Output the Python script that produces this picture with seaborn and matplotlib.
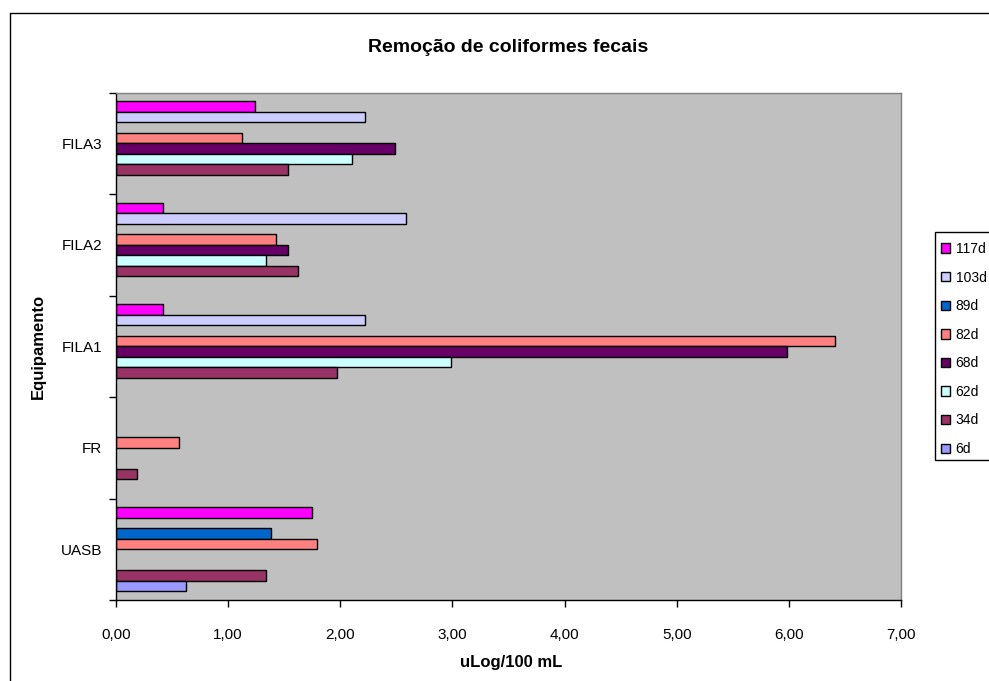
import numpy as np
import pandas as pd
import matplotlib
matplotlib.use("Agg")
import matplotlib.pyplot as plt
import seaborn as sns
from matplotlib.lines import Line2D
from matplotlib.patches import Patch, Rectangle
from matplotlib.ticker import FixedLocator

nan = np.nan

# categories (bottom to top as in the chart)
categories = ["UASB", "FR", "FILA1", "FILA2", "FILA3"]
series = ["6d", "34d", "62d", "68d", "82d", "89d", "103d", "117d"]

# values per series, aligned with categories
v_6d = [0.62, nan, nan, nan, nan]
v_34d = [1.34, 0.19, 1.97, 1.62, 1.53]
v_62d = [nan, nan, 2.99, 1.34, 2.10]
v_68d = [nan, nan, 5.98, 1.53, 2.49]
v_82d = [1.79, 0.56, 6.41, 1.43, 1.12]
v_89d = [1.38, nan, nan, nan, nan]
v_103d = [nan, nan, 2.22, 2.59, 2.22]
v_117d = [1.75, nan, 0.42, 0.42, 1.24]

colors = {
    "6d": "#9999FF", "34d": "#993366", "62d": "#CCFFFF", "68d": "#660066",
    "82d": "#FF8080", "89d": "#0066CC", "103d": "#CCCCFF", "117d": "#FF00FF",
}

xticks = [0, 1, 2, 3, 4, 5, 6, 7]
xtick_labels = ["0,00", "1,00", "2,00", "3,00", "4,00", "5,00", "6,00", "7,00"]

values = {"6d": v_6d, "34d": v_34d, "62d": v_62d, "68d": v_68d,
          "82d": v_82d, "89d": v_89d, "103d": v_103d, "117d": v_117d}
rows = []
for s in series:
    for c, v in zip(categories, values[s]):
        if not np.isnan(v):
            rows.append({"Equipamento": c, "serie": s, "value": v})
df = pd.DataFrame(rows)

sns.set_style("white")
plt.rcParams["font.family"] = ["Liberation Sans", "DejaVu Sans"]
plt.rcParams["text.color"] = "black"
plt.rcParams["xtick.color"] = "black"
plt.rcParams["ytick.color"] = "black"
plt.rcParams["axes.labelcolor"] = "black"

W, H = 989, 681
fig = plt.figure(figsize=(W / 100, H / 100), dpi=100)
ax = fig.add_axes([116 / W, 1 - 600 / H, (901 - 116) / W, (600 - 92.7) / H])

order = categories[::-1]
hue_order = series[::-1]
sns.barplot(data=df, x="value", y="Equipamento", hue="serie", order=order,
            hue_order=hue_order, palette=colors, orient="h", width=0.83,
            errorbar=None, edgecolor="black", linewidth=1.0, saturation=1,
            ax=ax, legend=False)

ax.set_facecolor("#C0C0C0")
ax.set_xlim(0, 7)
ax.set_ylim(4.5, -0.5)
ax.set_xticks(xticks)
ax.set_xticklabels(xtick_labels, fontsize=11, color="black")
ax.set_yticks(range(len(order)))
ax.set_yticklabels(order, fontsize=11, color="black")
ax.yaxis.set_minor_locator(FixedLocator(np.arange(-0.5, 5.0, 1.0)))
ax.tick_params(axis="y", which="major", length=0, pad=10)
ax.tick_params(axis="y", which="minor", length=5, width=1, color="black", direction="out", left=True)
ax.tick_params(axis="x", which="major", length=5, width=1, color="black", direction="out", pad=15, bottom=True)
ax.set_xlabel("")
ax.set_ylabel("")
for side in ["left", "bottom"]:
    ax.spines[side].set_color("black")
    ax.spines[side].set_linewidth(1)
for side in ["top", "right"]:
    ax.spines[side].set_color("#808080")
    ax.spines[side].set_linewidth(1)

fig.text(508 / W, 1 - 48 / H, "Remoção de coliformes fecais", ha="center", va="center",
         fontsize=14, fontweight="bold", color="black")
fig.text(511 / W, 1 - 663 / H, "uLog/100 mL", ha="center", va="center",
         fontsize=12, fontweight="bold", color="black")
fig.text(38 / W, 1 - 346 / H, "Equipamento", ha="center", va="center",
         fontsize=12, fontweight="bold", rotation=90, color="black")

# legend frame (extends past the right edge, as in the reference)
fig.add_artist(Rectangle((935 / W, 1 - 460 / H), 70 / W, (460 - 232) / H,
                         transform=fig.transFigure, facecolor="white",
                         edgecolor="black", linewidth=1, zorder=2, clip_on=False))
handles = [Patch(facecolor=colors[s], edgecolor="black", linewidth=1) for s in hue_order]
leg = fig.legend(handles, hue_order, loc="upper left", bbox_to_anchor=(941 / W, 1 - 242 / H),
                 frameon=False, fontsize=10, handlelength=0.65, handleheight=0.65,
                 handletextpad=0.4, labelspacing=1.05, borderpad=0, borderaxespad=0,
                 labelcolor="black")
leg.set_zorder(3)

fig.add_artist(Line2D([10 / W, 10 / W], [0, 1 - 13 / H], color="black", lw=1,
                      transform=fig.transFigure))
fig.add_artist(Line2D([10 / W, 1], [1 - 13 / H, 1 - 13 / H], color="black", lw=1,
                      transform=fig.transFigure))

fig.savefig("out.png", dpi=100, facecolor="white")
